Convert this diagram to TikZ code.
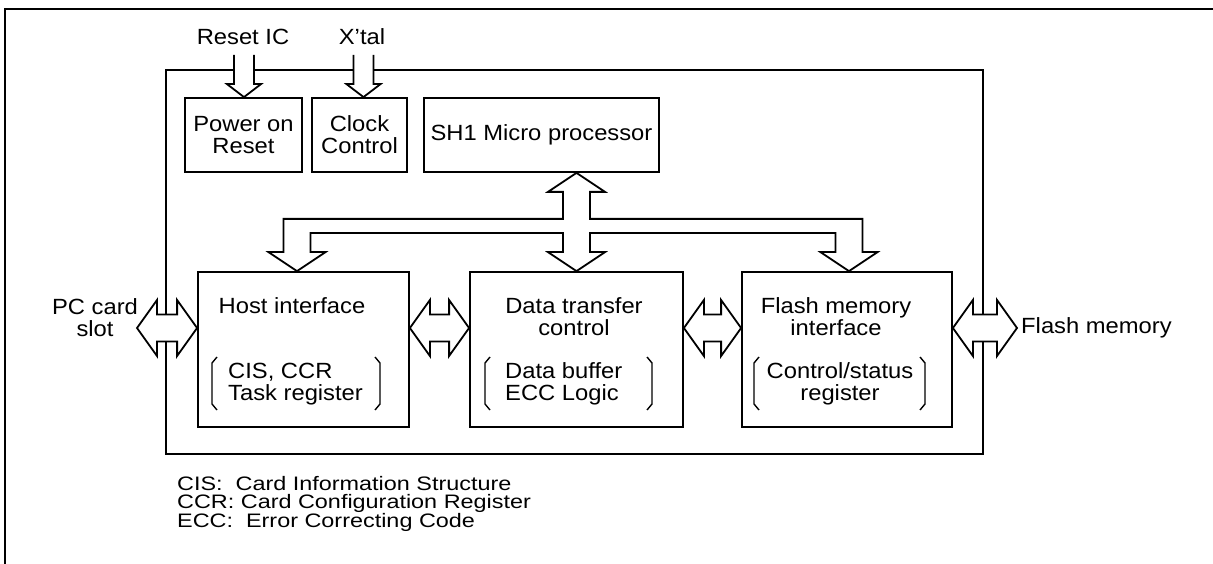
\documentclass[tikz,border=0pt]{standalone}
\usepackage{fontspec}
\setmainfont[FakeStretch=1.08]{Liberation Sans}
\newfontfamily\legfont[FakeStretch=1.2]{Liberation Sans}
\usetikzlibrary{calc}
\tikzset{
  lw/.style={line width=1.8pt},
  box/.style={draw, lw, inner sep=0pt, fill=white},
  blk/.style={draw, lw, fill=white, line join=miter},
  brk/.style={draw, line width=1.4pt},
  txt/.style={font=\fontsize{22}{22}\selectfont, inner sep=0pt},
  legend/.style={font=\legfont\fontsize{19.5}{18}\selectfont, inner sep=0pt, anchor=base west},
}
\newcommand\hdarrow[2]{%
  \draw[blk] let \p1=#1, \p2=#2 in
    (\x1,\y1) -- (\x1+20pt,\y1+28pt) -- (\x1+20pt,\y1+13.5pt) -- (\x2-20pt,\y1+13.5pt)
    -- (\x2-20pt,\y1+28pt) -- (\x2,\y1) -- (\x2-20pt,\y1-28pt) -- (\x2-20pt,\y1-13.5pt)
    -- (\x1+20pt,\y1-13.5pt) -- (\x1+20pt,\y1-28pt) -- cycle;}
% #1: named top coordinate, #2: target node
\newcommand\vdarrow[2]{%
  \draw[blk] ($(#1)+(-10,0)$) -- ($(#1 |- #2.north)+(-10,-13)$)
    -- ($(#1 |- #2.north)+(-17,-13)$) -- (#1 |- #2.north)
    -- ($(#1 |- #2.north)+(17,-13)$) -- ($(#1 |- #2.north)+(10,-13)$)
    -- ($(#1)+(10,0)$);}
\newcommand\lbrk[3]{\draw[brk] (#1+5,#2) -- (#1,#2+6) -- (#1,#3-6) -- (#1+5,#3);}
\newcommand\rbrk[3]{\draw[brk] (#1-5,#2) -- (#1,#2+6) -- (#1,#3-6) -- (#1-5,#3);}
\begin{document}
\begin{tikzpicture}[x=1pt,y=-1pt]
\useasboundingbox (0,0) rectangle (1213,564);
% page frame
\draw[line width=1.5pt] (5,564) -- (5,9) -- (1213,9);
% chip outline
\node[box, minimum width=817pt, minimum height=384pt] (chip) at (574.5,262) {};
% top boxes
\node[box, minimum width=117pt, minimum height=74pt, txt, align=center] (por) at (243.5,135) {Power on\\Reset};
\node[box, minimum width=95pt, minimum height=74pt, txt, align=center] (clk) at (359.5,135) {Clock\\Control};
\node[box, minimum width=235pt, minimum height=74pt, txt] (sh1) at (541.5,135) {SH1 Micro processor};
% main boxes
\node[box, minimum width=211pt, minimum height=155pt] (host) at (303.5,349.5) {};
\node[box, minimum width=213pt, minimum height=155pt] (dtc) at (576.5,349.5) {};
\node[box, minimum width=210pt, minimum height=155pt] (fmi) at (847,349.5) {};
% external labels
\node[txt] (rst) at (243,37) {Reset IC};
\node[txt] (xtal) at (362,37) {X'tal};
\coordinate (rstS) at (244,55);
\coordinate (xtalS) at (363.5,55);
\node[txt, align=center] (pc) at (95,318) {PC card\\slot};
\node[txt, anchor=west] (fm) at (1021,328) {Flash memory};
% input arrows
\vdarrow{rstS}{por}
\vdarrow{xtalS}{clk}
% horizontal double arrows
\coordinate (ay) at (0,328);
\coordinate (pcE) at (137,328);
\coordinate (fmE) at (1017,328);
\hdarrow{(pcE)}{(host.west |- ay)}
\hdarrow{(host.east |- ay)}{(dtc.west |- ay)}
\hdarrow{(dtc.east |- ay)}{(fmi.west |- ay)}
\hdarrow{(fmi.east |- ay)}{(fmE)}
% internal bus
\coordinate (hostT) at (297,272);
\coordinate (fmiT) at (849,272);
\draw[blk] let \p1=(dtc.north |- sh1.south), \p2=(hostT |- host.north), \p3=(dtc.north), \p4=(fmiT |- fmi.north) in
 (\x1,\y1) -- (\x1+28.5pt,\y1-19pt) -- (\x1+13.5pt,\y1-19pt) -- (\x1+13.5pt,\y1-46pt)
 -- (\x4+13.5pt,\y1-46pt) -- (\x4+13.5pt,\y4+19pt) -- (\x4+28.5pt,\y4+19pt) -- (\x4,\y4)
 -- (\x4-28.5pt,\y4+19pt) -- (\x4-13.5pt,\y4+19pt) -- (\x4-13.5pt,\y3+38pt)
 -- (\x3+13.5pt,\y3+38pt) -- (\x3+13.5pt,\y3+19pt) -- (\x3+28.5pt,\y3+19pt) -- (\x3,\y3)
 -- (\x3-28.5pt,\y3+19pt) -- (\x3-13.5pt,\y3+19pt) -- (\x3-13.5pt,\y3+38pt)
 -- (\x2+13.5pt,\y3+38pt) -- (\x2+13.5pt,\y2+19pt) -- (\x2+28.5pt,\y2+19pt) -- (\x2,\y2)
 -- (\x2-28.5pt,\y2+19pt) -- (\x2-13.5pt,\y2+19pt) -- (\x2-13.5pt,\y1-46pt)
 -- (\x1-13.5pt,\y1-46pt) -- (\x1-13.5pt,\y1-19pt) -- (\x1-28.5pt,\y1-19pt) -- cycle;
% box texts
\node[txt] (hostL) at (292,306) {Host interface};
\node[txt, anchor=west, align=left] (hostR) at (228,384) {CIS, CCR\\Task register};
\lbrk{212}{357}{410}\rbrk{380}{357}{410}
\node[txt, align=center] (dtcL) at (574,317) {Data transfer\\control};
\node[txt, anchor=west, align=left] (dtcR) at (505,384) {Data buffer\\ECC Logic};
\lbrk{485}{357}{410}\rbrk{652}{357}{410}
\node[txt, align=center] (fmiL) at (836,317) {Flash memory\\interface};
\node[txt, align=center] (fmiR) at (840,384) {Control/status\\register};
\lbrk{754}{357}{410}\rbrk{925}{357}{410}
% legend
\node[legend] (leg1) at (177,490) {CIS:\ \ Card Information Structure};
\node[legend] (leg2) at (177,508.5) {CCR: Card Configuration Register};
\node[legend] (leg3) at (177,527) {ECC:\ \ Error Correcting Code};
\end{tikzpicture}
\end{document}
